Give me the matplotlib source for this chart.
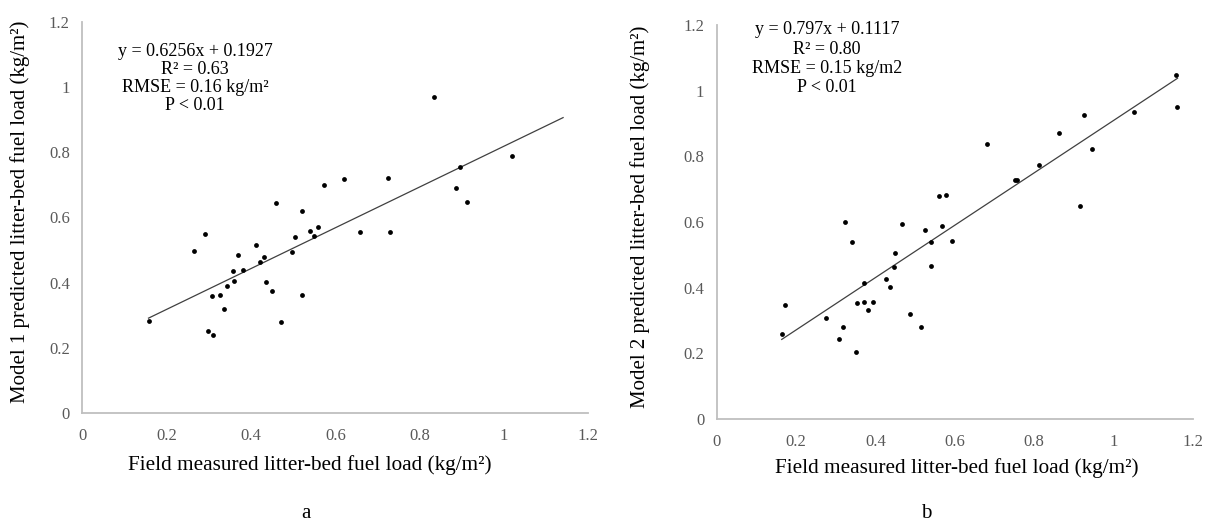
import matplotlib
matplotlib.use("Agg")
import matplotlib.pyplot as plt
import numpy as np

plt.rcParams['font.family'] = ['Liberation Serif', 'DejaVu Serif']

# ---- Panel a data (field measured vs model 1 predicted) ----
a_x = [0.833, 1.018, 0.895, 0.885, 0.913, 0.725, 0.730, 0.658, 0.620, 0.573,
       0.460, 0.520, 0.560, 0.540, 0.550, 0.505, 0.498, 0.520, 0.472, 0.450,
       0.435, 0.413, 0.432, 0.422, 0.380, 0.370, 0.357, 0.360, 0.342, 0.327,
       0.307, 0.337, 0.290, 0.264, 0.297, 0.309, 0.157]
a_y = [0.968, 0.787, 0.754, 0.690, 0.648, 0.722, 0.556, 0.556, 0.718, 0.699,
       0.644, 0.618, 0.569, 0.559, 0.544, 0.540, 0.495, 0.362, 0.278, 0.375,
       0.401, 0.514, 0.479, 0.462, 0.439, 0.486, 0.436, 0.404, 0.388, 0.362,
       0.359, 0.320, 0.550, 0.498, 0.253, 0.239, 0.283]
a_slope, a_intercept = 0.6256, 0.1927
a_trend_x = [0.157, 1.14]
a_text = ["y = 0.6256x + 0.1927", "R\u00b2 = 0.63", "RMSE = 0.16 kg/m\u00b2", "P < 0.01"]
a_ylabel = "Model 1 predicted litter-bed fuel load (kg/m\u00b2)"

# ---- Panel b data (field measured vs model 2 predicted) ----
b_x = [1.158, 1.161, 1.051, 0.927, 0.862, 0.682, 0.946, 0.812, 0.751, 0.756,
       0.916, 0.561, 0.579, 0.569, 0.593, 0.524, 0.540, 0.540, 0.466, 0.324,
       0.340, 0.449, 0.446, 0.428, 0.438, 0.371, 0.355, 0.371, 0.395, 0.382,
       0.488, 0.516, 0.276, 0.318, 0.308, 0.350, 0.171, 0.164]
b_y = [1.047, 0.949, 0.936, 0.927, 0.872, 0.837, 0.823, 0.775, 0.727, 0.727,
       0.649, 0.678, 0.681, 0.588, 0.543, 0.575, 0.539, 0.466, 0.595, 0.601,
       0.539, 0.505, 0.462, 0.426, 0.401, 0.414, 0.353, 0.356, 0.356, 0.331,
       0.321, 0.279, 0.308, 0.279, 0.244, 0.205, 0.346, 0.259]
b_slope, b_intercept = 0.797, 0.1117
b_trend_x = [0.164, 1.162]
b_text = ["y = 0.797x + 0.1117", "R\u00b2 = 0.80", "RMSE = 0.15 kg/m2", "P < 0.01"]
b_ylabel = "Model 2 predicted litter-bed fuel load (kg/m\u00b2)"

xlabel = "Field measured litter-bed fuel load (kg/m\u00b2)"
ticks = [0, 0.2, 0.4, 0.6, 0.8, 1.0, 1.2]
tick_labels = ["0", "0.2", "0.4", "0.6", "0.8", "1", "1.2"]
captions = ["a", "b"]

W, H = 1223, 528
fig = plt.figure(figsize=(W / 100, H / 100), dpi=100)

def px_rect(x0, x1, ytop, ybot):
    return [x0 / W, 1 - ybot / H, (x1 - x0) / W, (ybot - ytop) / H]

ax_a = fig.add_axes(px_rect(82.3, 588.4, 21.7, 413))
ax_b = fig.add_axes(px_rect(716.7, 1192.6, 25, 419))

axis_col = '#BFBFBF'
tick_col = '#595959'

def style(ax):
    ax.set_xlim(0, 1.2)
    ax.set_ylim(0, 1.2)
    for s in ['top', 'right']:
        ax.spines[s].set_visible(False)
    for s in ['left', 'bottom']:
        ax.spines[s].set_color(axis_col)
        ax.spines[s].set_linewidth(1.3)
    ax.set_xticks(ticks)
    ax.set_xticklabels(tick_labels)
    ax.set_yticks(ticks)
    ax.set_yticklabels(tick_labels)
    ax.tick_params(axis='x', length=0, labelsize=12, colors=tick_col, pad=11)
    ax.tick_params(axis='y', length=0, labelsize=12, colors=tick_col, pad=9)
    ax.patch.set_alpha(0)

def draw(ax, xs, ys, slope, intercept, trend_x):
    ax.scatter(xs, ys, s=12, color='black', zorder=3, linewidths=0)
    tx = np.array(trend_x)
    ax.plot(tx, slope * tx + intercept, color='#404040', lw=0.9, zorder=2)

style(ax_a)
style(ax_b)
draw(ax_a, a_x, a_y, a_slope, a_intercept, a_trend_x)
draw(ax_b, b_x, b_y, b_slope, b_intercept, b_trend_x)

# annotations (pixel positions)
def fig_text(x, y, s, **kw):
    fig.text(x / W, 1 - y / H, s, ha='center', va='center', **kw)

for i, line in enumerate(a_text):
    fig_text(195, 51 + i * 18.3, line, fontsize=13, color='black')
for i, line in enumerate(b_text):
    fig_text(827, 30 + i * 19.3, line, fontsize=13, color='black')

# axis labels
fig_text(310, 465, xlabel, fontsize=15.3)
fig_text(957, 468, xlabel, fontsize=15.3)
fig.text(20 / W, 1 - 212 / H, a_ylabel, rotation=90, ha='center', va='center', fontsize=15)
fig.text(640 / W, 1 - 217 / H, b_ylabel, rotation=90, ha='center', va='center', fontsize=15)

fig_text(306, 513, captions[0], fontsize=15)
fig_text(926, 513, captions[1], fontsize=15)

fig.savefig("out.png", dpi=100)
